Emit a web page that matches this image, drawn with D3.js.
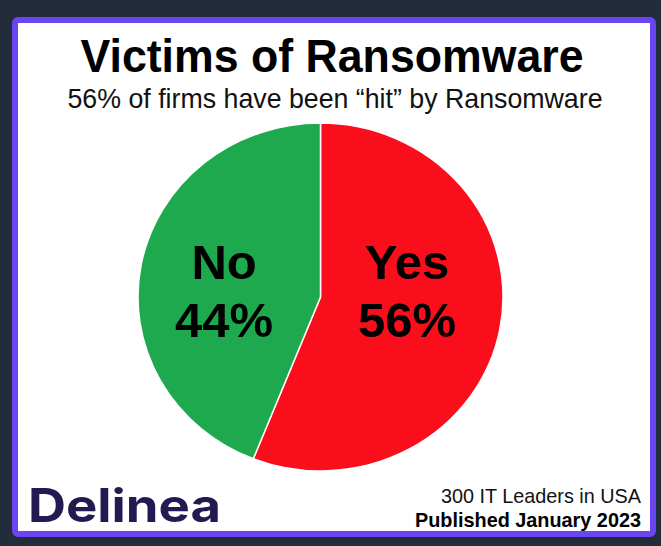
<!DOCTYPE html>
<html>
<head>
<meta charset="utf-8">
<script src="https://cdn.jsdelivr.net/npm/d3@7"></script>
<style>
  body { margin: 0; background: #222c3b; }
  svg { display: block; }
</style>
</head>
<body>
<div id="chart"></div>
<script>
// data
var categories = ["Yes", "No"];
var values = [56, 44];
var colors = ["#fb0e1c", "#1fa94f"];

var title = "Victims of Ransomware";
var subtitle = "56% of firms have been \u201chit\u201d by Ransomware";
var footerLines = ["300 IT Leaders in USA", "Published January 2023"];

var W = 661, H = 546;

var svg = d3.select("#chart")
  .append("svg")
  .attr("width", W)
  .attr("height", H);

// background + framed panel
svg.append("rect").attr("width", W).attr("height", H).attr("fill", "#222c3b");
svg.append("rect")
  .attr("x", 15).attr("y", 20)
  .attr("width", 638).attr("height", 514)
  .attr("rx", 3)
  .attr("fill", "#ffffff")
  .attr("stroke", "#6b45f0")
  .attr("stroke-width", 6);

// titles (condensed like the picture)
svg.append("text")
  .attr("x", 332).attr("y", 72)
  .attr("text-anchor", "middle")
  .attr("font-family", "Liberation Sans, Arial, sans-serif")
  .attr("font-weight", "bold")
  .attr("font-size", 47)
  .attr("textLength", 503)
  .attr("lengthAdjust", "spacingAndGlyphs")
  .attr("fill", "#000")
  .text(title);

svg.append("text")
  .attr("x", 335).attr("y", 108)
  .attr("text-anchor", "middle")
  .attr("font-family", "Liberation Sans, Arial, sans-serif")
  .attr("font-size", 28)
  .attr("textLength", 535)
  .attr("lengthAdjust", "spacingAndGlyphs")
  .attr("fill", "#111")
  .text(subtitle);

// pie (slightly wider than tall, as in the picture)
var rx = 182.5, ry = 174;
var cx = 320.5, cy = 297;

var pieData = d3.pie().sort(null)(values);
var arc = d3.arc().innerRadius(0).outerRadius(rx);
var labelArc = d3.arc().innerRadius(rx * 0.51).outerRadius(rx * 0.51);

var g = svg.append("g")
  .attr("transform", "translate(" + cx + "," + cy + ") scale(1," + (ry / rx) + ")");

g.selectAll("path")
  .data(pieData)
  .enter()
  .append("path")
  .attr("d", arc)
  .attr("fill", function(d, i) { return colors[i]; })
  .attr("stroke", "#ffffff")
  .attr("stroke-width", 1.5)
  .attr("vector-effect", "non-scaling-stroke");

// slice labels
var lab = svg.append("g").attr("transform", "translate(" + (cx - 5) + "," + cy + ")");
pieData.forEach(function(d, i) {
  var c = labelArc.centroid(d);
  var t = lab.append("text")
    .attr("x", c[0])
    .attr("text-anchor", "middle")
    .attr("font-family", "Liberation Sans, Arial, sans-serif")
    .attr("font-weight", "bold")
    .attr("font-size", 49)
    .attr("fill", "#000");
  t.append("tspan").attr("x", c[0]).attr("y", -18).text(categories[i]);
  t.append("tspan").attr("x", c[0]).attr("y", 40).text(values[i] + "%");
});

// footer
svg.append("text")
  .attr("x", 28).attr("y", 522)
  .attr("font-family", "Inter, Lato, sans-serif")
  .attr("font-weight", 700)
  .attr("font-size", 46)
  .attr("textLength", 193)
  .attr("lengthAdjust", "spacingAndGlyphs")
  .attr("fill", "#221a50")
  .text("Delinea");

svg.append("text")
  .attr("x", 641).attr("y", 503)
  .attr("text-anchor", "end")
  .attr("font-family", "Liberation Sans, Arial, sans-serif")
  .attr("font-size", 21)
  .attr("textLength", 200)
  .attr("lengthAdjust", "spacingAndGlyphs")
  .attr("fill", "#111")
  .text(footerLines[0]);

svg.append("text")
  .attr("x", 641).attr("y", 527)
  .attr("text-anchor", "end")
  .attr("font-family", "Liberation Sans, Arial, sans-serif")
  .attr("font-weight", "bold")
  .attr("font-size", 21)
  .attr("textLength", 226)
  .attr("lengthAdjust", "spacingAndGlyphs")
  .attr("fill", "#000")
  .text(footerLines[1]);
</script>
</body>
</html>
